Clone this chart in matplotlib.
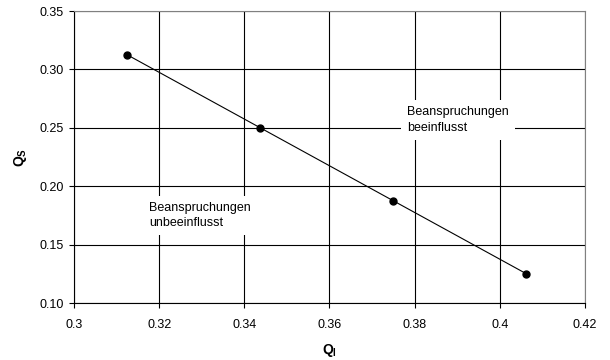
import matplotlib
matplotlib.use('Agg')
from matplotlib import pyplot as plt

plt.rcParams['font.family'] = ['Liberation Sans', 'DejaVu Sans']
plt.rcParams['mathtext.fontset'] = 'custom'
plt.rcParams['mathtext.rm'] = 'Liberation Sans'
plt.rcParams['mathtext.bf'] = 'Liberation Sans:bold'

# Messpunkte Q_I / Q_S
q_i = [0.3125, 0.34375, 0.375, 0.40625]
q_s = [0.3125, 0.25, 0.1875, 0.125]

x_ticks = [0.3, 0.32, 0.34, 0.36, 0.38, 0.4, 0.42]
x_labels = ['0.3', '0.32', '0.34', '0.36', '0.38', '0.4', '0.42']
y_ticks = [0.10, 0.15, 0.20, 0.25, 0.30, 0.35]
y_labels = ['0.10', '0.15', '0.20', '0.25', '0.30', '0.35']

fig = plt.figure(figsize=(6.1, 3.6), dpi=100)
ax = fig.add_axes([0.1213, 0.1583, 0.8377, 0.8111])

ax.plot(q_i, q_s, color='black', lw=0.8, marker='o', ms=5, zorder=3)

ax.set_xlim(0.3, 0.42)
ax.set_ylim(0.10, 0.35)
ax.set_xticks(x_ticks)
ax.set_xticklabels(x_labels)
ax.set_yticks(y_ticks)
ax.set_yticklabels(y_labels)
ax.grid(True, color='black', lw=0.8)
ax.set_axisbelow(True)
ax.tick_params(direction='out', length=3.5, width=0.8, labelsize=9, colors='black')
ax.tick_params(axis='x', pad=8)
ax.tick_params(axis='y', pad=4)

for side in ['top', 'right']:
    ax.spines[side].set_color('#808080')
for side in ['left', 'bottom']:
    ax.spines[side].set_color('black')

ax.set_xlabel(r'$\mathbf{Q_I}$', fontsize=10, labelpad=8)
ax.set_ylabel(r'$\mathbf{Q_S}$', fontsize=10, labelpad=7)

ax.text(0.3782, 0.2683, 'Beanspruchungen\nbeeinflusst', fontsize=9, va='top', ha='left',
        bbox=dict(facecolor='white', edgecolor='none', pad=4.5), zorder=2, linespacing=1.4)
ax.text(0.3176, 0.1869, 'Beanspruchungen\nunbeeinflusst', fontsize=9, va='top', ha='left',
        bbox=dict(facecolor='white', edgecolor='none', pad=4), zorder=2, linespacing=1.4)

fig.savefig('out.png', dpi=100)
